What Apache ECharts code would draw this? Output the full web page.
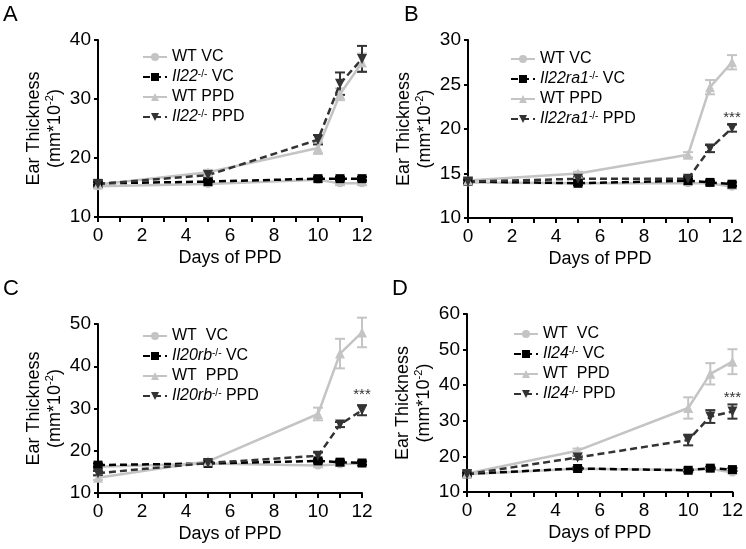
<!DOCTYPE html>
<html>
<head>
<meta charset="UTF-8">
<script src="https://cdn.jsdelivr.net/npm/echarts@6/dist/echarts.min.js"></script>
<style>
    html, body { margin: 0; padding: 0; background: #fff; }
    #main { width: 746px; height: 549px; }
</style>
</head>
<body>
<div id="main"></div>
<script>
    // shared x values (days of PPD)
    var days = [0, 5, 10, 11, 12];
    var panelLetters = ['A', 'B', 'C', 'D'];
    var genes = ['Il22', 'Il22ra1', 'Il20rb', 'Il24'];
    var yMin = [10, 10, 10, 10];
    var yMax = [40, 30, 50, 60];
    var yStep = [10, 5, 10, 10];
    var starAt = [null, 21.3, 33.2, 36.4];   // *** above knockout PPD at day 12

    // A - Il22
    var aWtVc = [15.2, 15.6, 16.3, 15.7, 15.7];
    var aKoVc = [15.7, 16.0, 16.5, 16.5, 16.5];
    var aWtPpd = [15.5, 17.6, 21.7, 30.8, 36.2];
    var aKoPpd = [15.6, 17.1, 23.1, 32.6, 36.8];
    var aWtVcErr = [0.3, 0.3, 0.3, 0.3, 0.3];
    var aKoVcErr = [0.3, 0.3, 0.3, 0.3, 0.3];
    var aWtPpdErr = [0.3, 0.4, 1.0, 1.0, 1.5];
    var aKoPpdErr = [0.3, 0.4, 0.8, 1.9, 2.2];

    // B - Il22ra1
    var bWtVc = [14.0, 13.9, 13.9, 13.9, 13.5];
    var bKoVc = [14.1, 13.9, 14.2, 14.0, 13.8];
    var bWtPpd = [14.2, 15.0, 17.1, 24.7, 27.5];
    var bKoPpd = [14.1, 14.4, 14.4, 17.8, 20.1];
    var bWtVcErr = [0.2, 0.2, 0.2, 0.2, 0.2];
    var bKoVcErr = [0.2, 0.2, 0.2, 0.2, 0.2];
    var bWtPpdErr = [0.2, 0.2, 0.3, 0.8, 0.8];
    var bKoPpdErr = [0.2, 0.2, 0.3, 0.4, 0.4];

    // C - Il20rb
    var cWtVc = [16.2, 17.0, 16.5, 16.8, 17.0];
    var cKoVc = [16.6, 17.0, 17.6, 17.3, 17.1];
    var cWtPpd = [13.6, 17.5, 28.7, 43.0, 48.0];
    var cKoPpd = [14.7, 17.1, 18.8, 26.2, 29.6];
    var cWtVcErr = [0.4, 0.4, 0.4, 0.4, 0.4];
    var cKoVcErr = [0.4, 0.4, 0.4, 0.4, 0.4];
    var cWtPpdErr = [0.5, 0.5, 1.5, 3.5, 3.5];
    var cKoPpdErr = [0.5, 0.4, 0.8, 0.6, 1.2];

    // D - Il24
    var dWtVc = [15.0, 16.5, 16.2, 16.5, 15.5];
    var dKoVc = [15.1, 16.6, 16.1, 16.7, 16.3];
    var dWtPpd = [15.2, 21.6, 33.6, 43.2, 46.6];
    var dKoPpd = [15.0, 19.7, 24.6, 31.2, 32.6];
    var dWtVcErr = [0.4, 0.4, 0.4, 0.4, 0.4];
    var dKoVcErr = [0.4, 0.4, 0.4, 0.4, 0.4];
    var dWtPpdErr = [0.4, 0.6, 3.0, 3.0, 3.5];
    var dKoPpdErr = [0.4, 0.5, 1.5, 1.8, 2.0];

    var panels = [
        [aWtVc, aKoVc, aWtPpd, aKoPpd, aWtVcErr, aKoVcErr, aWtPpdErr, aKoPpdErr],
        [bWtVc, bKoVc, bWtPpd, bKoPpd, bWtVcErr, bKoVcErr, bWtPpdErr, bKoPpdErr],
        [cWtVc, cKoVc, cWtPpd, cKoPpd, cWtVcErr, cKoVcErr, cWtPpdErr, cKoPpdErr],
        [dWtVc, dKoVc, dWtPpd, dKoPpd, dWtVcErr, dKoVcErr, dWtPpdErr, dKoPpdErr]
    ];

    var FONT = '"Liberation Sans", Arial, Helvetica, sans-serif';
    var GRAY = '#c4c4c4';
    var BLACK = '#000';
    var DARK = '#333';

    var grids = [
        { left: 98, top: 40, width: 264, height: 177 },
        { left: 468, top: 40, width: 264, height: 178 },
        { left: 98, top: 324, width: 264, height: 169 },
        { left: 467, top: 314, width: 266, height: 178 }
    ];
    var legendPos = [
        { left: 137, top: 44 },
        { left: 505, top: 46 },
        { left: 137, top: 323 },
        { left: 508, top: 321 }
    ];
    var letterPos = [[3, 4], [404, 4], [3, 278], [392, 278]];

    var styles = [
        { color: GRAY, symbol: 'circle', size: 8, dash: 'solid', rot: 0 },
        { color: BLACK, symbol: 'rect', size: 9, dash: [7, 4], rot: 0 },
        { color: GRAY, symbol: 'triangle', size: 10, dash: 'solid', rot: 0 },
        { color: DARK, symbol: 'triangle', size: 10, dash: [7, 4], rot: 180 }
    ];

    var labelOf = {};
    var xAxes = [], yAxes = [], legends = [], series = [], graphics = [];

    function errorBars(i, vals, errs, color) {
        return {
            type: 'custom',
            xAxisIndex: i,
            yAxisIndex: i,
            silent: true,
            z: 1,
            data: days.map(function (d, k) { return [d, vals[k] - errs[k], vals[k] + errs[k]]; }),
            renderItem: function (params, api) {
                var lo = api.coord([api.value(0), api.value(1)]);
                var hi = api.coord([api.value(0), api.value(2)]);
                var w = 5;
                var st = { stroke: color, lineWidth: 2 };
                return {
                    type: 'group',
                    children: [
                        { type: 'line', shape: { x1: lo[0], y1: lo[1], x2: hi[0], y2: hi[1] }, style: st },
                        { type: 'line', shape: { x1: hi[0] - w, y1: hi[1], x2: hi[0] + w, y2: hi[1] }, style: st },
                        { type: 'line', shape: { x1: lo[0] - w, y1: lo[1], x2: lo[0] + w, y2: lo[1] }, style: st }
                    ]
                };
            }
        };
    }

    for (var i = 0; i < 4; i++) {
        var sp = (i >= 2) ? '  ' : ' ';
        var labels = [
            'WT' + sp + 'VC',
            '{it|' + genes[i] + '}{sup|-/-} VC',
            'WT' + sp + 'PPD',
            '{it|' + genes[i] + '}{sup|-/-} PPD'
        ];
        var names = [];

        xAxes.push({
            gridIndex: i, type: 'value', min: 0, max: 12, interval: 2,
            axisLine: { lineStyle: { color: BLACK, width: 2 } },
            axisTick: { length: 5, lineStyle: { color: BLACK, width: 2 } },
            minorTick: { show: true, splitNumber: 2, length: 5, lineStyle: { color: BLACK, width: 2 } },
            splitLine: { show: false },
            axisLabel: { color: BLACK, fontSize: 19, fontFamily: FONT, margin: 9 },
            name: 'Days of PPD', nameLocation: 'middle', nameGap: 32,
            nameTextStyle: { color: BLACK, fontSize: 18, fontFamily: FONT }
        });
        yAxes.push({
            gridIndex: i, type: 'value', min: yMin[i], max: yMax[i], interval: yStep[i],
            axisLine: { show: true, lineStyle: { color: BLACK, width: 2 } },
            axisTick: { show: true, length: 4, lineStyle: { color: BLACK, width: 2 } },
            splitLine: { show: false },
            axisLabel: { color: BLACK, fontSize: 19, fontFamily: FONT, margin: 7 },
            name: 'Ear Thickness\n(mm*10{sup|-2})', nameLocation: 'middle', nameGap: 28,
            nameTextStyle: {
                color: BLACK, fontSize: 18, fontFamily: FONT, lineHeight: 21,
                rich: { sup: { fontSize: 11, fontFamily: FONT, color: BLACK, verticalAlign: 'top', lineHeight: 21 } }
            }
        });

        for (var s = 0; s < 4; s++) {
            var st = styles[s];
            var nm = panelLetters[i] + s;
            names.push(nm);
            labelOf[nm] = labels[s];
            var line = {
                name: nm, type: 'line', xAxisIndex: i, yAxisIndex: i,
                data: days.map(function (d, k) { return [d, panels[i][s][k]]; }),
                symbol: st.symbol, symbolSize: st.size, symbolRotate: st.rot,
                lineStyle: { color: st.color, width: 2.5, type: st.dash },
                itemStyle: { color: st.color },
                z: 2
            };
            if (s === 3 && starAt[i] !== null) {
                line.markPoint = {
                    symbol: 'circle', symbolSize: 1,
                    itemStyle: { color: 'rgba(0,0,0,0)' },
                    data: [{ coord: [12, starAt[i]] }],
                    label: { show: true, formatter: '***', position: 'inside', color: DARK, fontSize: 15, fontFamily: FONT }
                };
            }
            series.push(line);
            series.push(errorBars(i, panels[i][s], panels[i][s + 4], st.color));
        }

        legends.push({
            left: legendPos[i].left, top: legendPos[i].top, orient: 'vertical',
            itemWidth: 24, itemHeight: 10, itemGap: 4, selectedMode: false,
            data: names,
            formatter: function (name) { return labelOf[name]; },
            textStyle: {
                color: BLACK, fontSize: 16, fontFamily: FONT, lineHeight: 16,
                rich: {
                    it: { fontStyle: 'italic', fontSize: 16, fontFamily: FONT, color: BLACK, lineHeight: 16 },
                    sup: { fontSize: 10, fontFamily: FONT, color: BLACK, verticalAlign: 'top', lineHeight: 16 }
                }
            }
        });

        graphics.push({
            type: 'text', left: letterPos[i][0], top: letterPos[i][1],
            style: { text: panelLetters[i], fontSize: 22, fontFamily: FONT, fill: BLACK }
        });
    }

    var myChart = echarts.init(document.getElementById('main'));
    myChart.setOption({
        animation: false,
        backgroundColor: '#fff',
        grid: grids,
        xAxis: xAxes,
        yAxis: yAxes,
        legend: legends,
        graphic: graphics,
        series: series
    });
</script>
</body>
</html>
